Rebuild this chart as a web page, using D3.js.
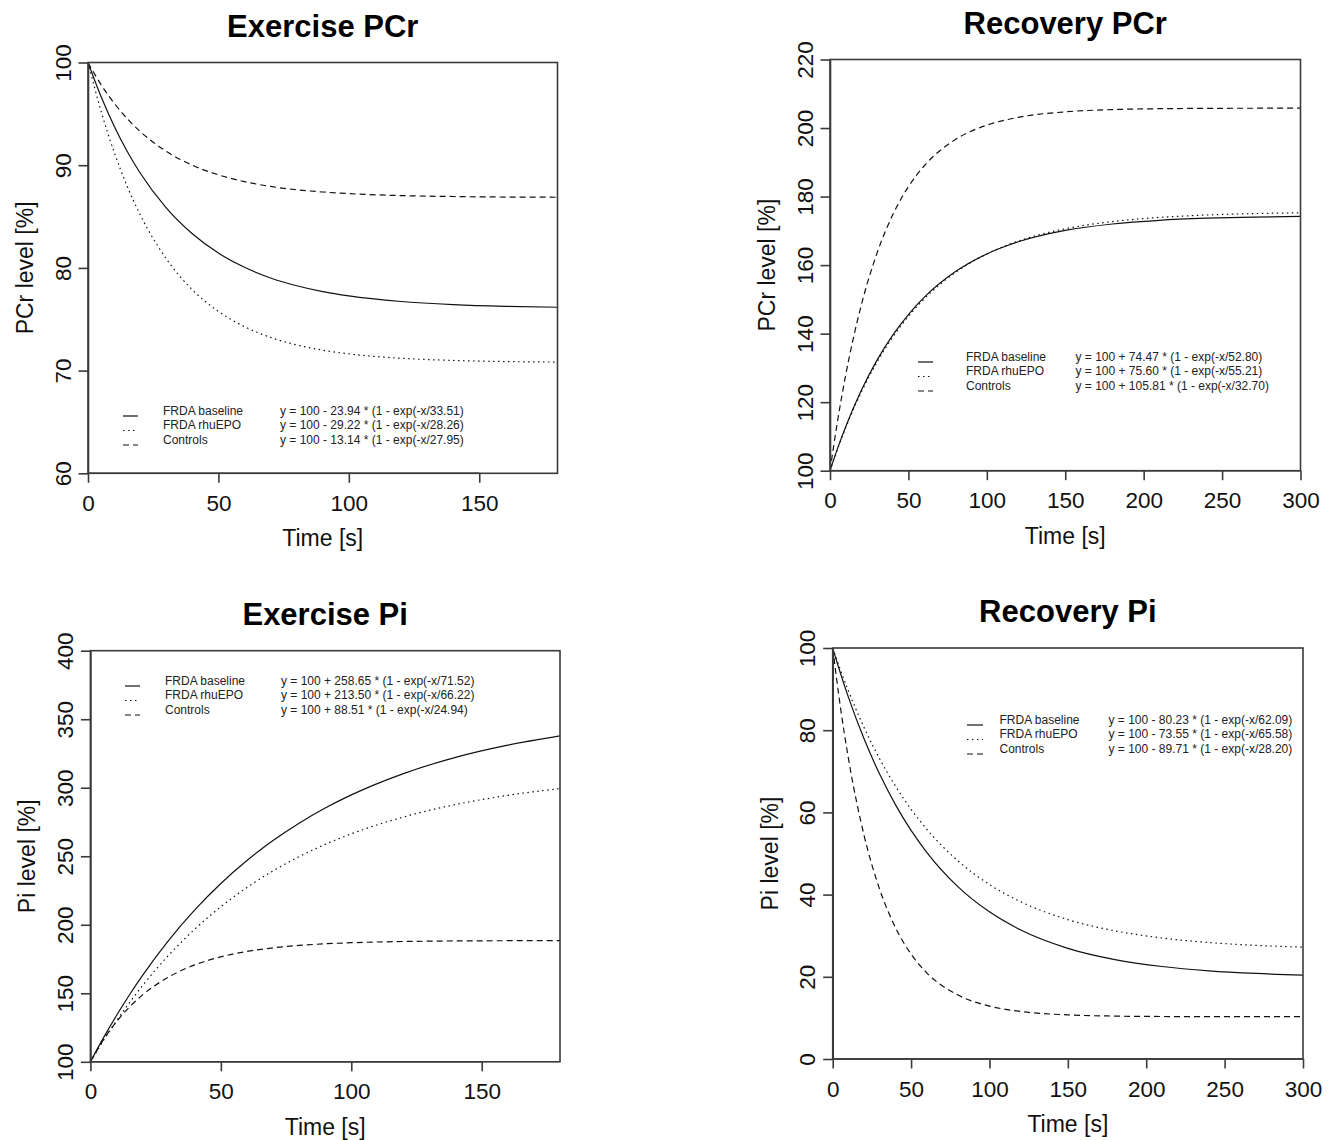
<!DOCTYPE html>
<html>
<head>
<meta charset="utf-8">
<script src="https://cdn.jsdelivr.net/npm/d3@7"></script>
<style>
  html, body { margin: 0; padding: 0; background: #fff; }
  svg { display: block; font-family: "Liberation Sans", Arial, sans-serif; }
</style>
</head>
<body>
<svg id="chart" width="1333" height="1140"></svg>
<script>
// ---------------- DATA ----------------
const seriesNames = ["FRDA baseline", "FRDA rhuEPO", "Controls"];

const exerciseTime = [0, 5, 10, 15, 20, 30, 40, 50, 60, 70, 80, 90, 100, 120, 140, 160, 180];
const recoveryTime = [0, 5, 10, 20, 30, 40, 50, 60, 80, 100, 120, 150, 180, 210, 240, 270, 300];

// Exercise PCr
const exPCrBaseline = [100, 96.68, 93.82, 91.36, 89.24, 85.84, 83.32, 81.44, 80.06, 79.02, 78.26, 77.69, 77.27, 76.73, 76.43, 76.26, 76.17];
const exPCrRhuEPO   = [100, 95.26, 91.29, 87.96, 85.18, 80.89, 77.87, 75.76, 74.28, 73.23, 72.50, 71.99, 71.63, 71.20, 70.99, 70.88, 70.83];
const exPCrControls = [100, 97.85, 96.05, 94.54, 93.28, 91.35, 90.00, 89.06, 88.40, 87.93, 87.61, 87.39, 87.23, 87.04, 86.95, 86.90, 86.88];

// Recovery PCr
const recPCrBaseline = [100, 106.73, 112.85, 123.48, 132.28, 139.56, 145.58, 150.56, 158.10, 163.26, 166.80, 170.12, 172.00, 173.08, 173.68, 174.02, 174.22];
const recPCrRhuEPO   = [100, 106.55, 112.53, 122.97, 131.69, 138.96, 145.03, 150.10, 157.85, 163.24, 167.00, 170.60, 172.70, 173.91, 174.62, 175.03, 175.27];
const recPCrControls = [100, 115.00, 127.88, 148.41, 163.53, 174.67, 182.88, 188.92, 196.65, 200.84, 203.11, 204.73, 205.38, 205.64, 205.74, 205.78, 205.80];

// Exercise Pi
const exPiBaseline = [100, 117.46, 133.75, 148.94, 163.08, 188.61, 210.81, 230.10, 246.86, 261.45, 274.12, 285.17, 294.76, 310.34, 322.13, 331.03, 337.78];
const exPiRhuEPO   = [100, 115.52, 129.93, 143.28, 155.66, 177.78, 196.80, 213.16, 227.22, 239.31, 249.71, 258.65, 266.34, 278.64, 287.73, 294.46, 299.41];
const exPiControls = [100, 116.08, 129.24, 140.01, 148.81, 161.93, 170.71, 176.59, 180.53, 183.16, 184.93, 186.11, 186.90, 187.79, 188.19, 188.36, 188.45];

// Recovery Pi
const recPiBaseline = [100, 93.79, 88.06, 77.90, 69.26, 61.90, 55.63, 50.30, 41.89, 35.80, 31.38, 26.93, 24.19, 22.50, 21.45, 20.81, 20.41];
const recPiRhuEPO   = [100, 94.60, 89.60, 80.66, 73.00, 66.42, 60.77, 55.91, 48.17, 42.45, 38.25, 33.92, 31.18, 29.44, 28.34, 27.65, 27.21];
const recPiControls = [100, 85.42, 73.21, 54.43, 41.25, 32.01, 25.52, 20.97, 15.55, 12.87, 11.56, 10.73, 10.44, 10.34, 10.31, 10.30, 10.29];

// Legend formulas
const exPCrFormulas  = ["y = 100 - 23.94 * (1 - exp(-x/33.51)", "y = 100 - 29.22 * (1 - exp(-x/28.26)", "y = 100 - 13.14 * (1 - exp(-x/27.95)"];
const recPCrFormulas = ["y = 100 + 74.47 * (1 - exp(-x/52.80)", "y = 100 + 75.60 * (1 - exp(-x/55.21)", "y = 100 + 105.81 * (1 - exp(-x/32.70)"];
const exPiFormulas   = ["y = 100 + 258.65 * (1 - exp(-x/71.52)", "y = 100 + 213.50 * (1 - exp(-x/66.22)", "y = 100 + 88.51 * (1 - exp(-x/24.94)"];
const recPiFormulas  = ["y = 100 - 80.23 * (1 - exp(-x/62.09)", "y = 100 - 73.55 * (1 - exp(-x/65.58)", "y = 100 - 89.71 * (1 - exp(-x/28.20)"];

// Ticks
const exerciseXTicks = [0, 50, 100, 150];
const recoveryXTicks = [0, 50, 100, 150, 200, 250, 300];
const exPCrYTicks  = [60, 70, 80, 90, 100];
const recPCrYTicks = [100, 120, 140, 160, 180, 200, 220];
const exPiYTicks   = [100, 150, 200, 250, 300, 350, 400];
const recPiYTicks  = [0, 20, 40, 60, 80, 100];

// ---------------- LAYOUT ----------------
const dashStyles = [null, "1.5,3.5", "6,4"];

const panels = [
  { title: "Exercise PCr", ylab: "PCr level [%]", time: exerciseTime, xDomain: [0, 180], xTicks: exerciseXTicks,
    yDomain: [60, 100], yTicks: exPCrYTicks, series: [exPCrBaseline, exPCrRhuEPO, exPCrControls], formulas: exPCrFormulas,
    box: { x0: 88, x1: 557.5, y0: 62.5, y1: 473.3 }, leg: { s0: 123, s1: 138, tx: 163, fx: 280, by: 414.5 } },
  { title: "Recovery PCr", ylab: "PCr level [%]", time: recoveryTime, xDomain: [0, 300], xTicks: recoveryXTicks,
    yDomain: [100, 220], yTicks: recPCrYTicks, series: [recPCrBaseline, recPCrRhuEPO, recPCrControls], formulas: recPCrFormulas,
    box: { x0: 830, x1: 1300.5, y0: 59.5, y1: 470.7 }, leg: { s0: 918, s1: 933, tx: 966, fx: 1075.5, by: 360.5 } },
  { title: "Exercise Pi", ylab: "Pi level [%]", time: exerciseTime, xDomain: [0, 180], xTicks: exerciseXTicks,
    yDomain: [100, 400], yTicks: exPiYTicks, series: [exPiBaseline, exPiRhuEPO, exPiControls], formulas: exPiFormulas,
    box: { x0: 90.4, x1: 560, y0: 650.7, y1: 1061.8 }, leg: { s0: 125, s1: 140, tx: 165, fx: 281, by: 684.5 } },
  { title: "Recovery Pi", ylab: "Pi level [%]", time: recoveryTime, xDomain: [0, 300], xTicks: recoveryXTicks,
    yDomain: [0, 100], yTicks: recPiYTicks, series: [recPiBaseline, recPiRhuEPO, recPiControls], formulas: recPiFormulas,
    box: { x0: 832.7, x1: 1303, y0: 648, y1: 1059 }, leg: { s0: 967, s1: 983, tx: 999.5, fx: 1108.5, by: 723.5 } }
];

const svg = d3.select("#chart");
svg.append("rect").attr("width", 1333).attr("height", 1140).attr("fill", "#fff");

const INK = "#111";
const AXIS = "#3a3a3a";

panels.forEach((p, pi) => {
  const b = p.box;
  const x = d3.scaleLinear().domain(p.xDomain).range([b.x0, b.x1]);
  const y = d3.scaleLinear().domain(p.yDomain).range([b.y1, b.y0]);
  const g = svg.append("g");

  // clip
  const clipId = "clip" + pi;
  svg.append("clipPath").attr("id", clipId)
    .append("rect").attr("x", b.x0).attr("y", b.y0).attr("width", b.x1 - b.x0).attr("height", b.y1 - b.y0);

  // curves
  const line = d3.line().x(d => x(d[0])).y(d => y(d[1])).curve(d3.curveMonotoneX);
  p.series.forEach((vals, si) => {
    const pts = p.time.map((t, i) => [t, vals[i]]);
    g.append("path")
      .attr("clip-path", `url(#${clipId})`)
      .attr("d", line(pts))
      .attr("fill", "none")
      .attr("stroke", INK)
      .attr("stroke-width", 1.2)
      .attr("stroke-dasharray", dashStyles[si]);
  });

  // box
  g.append("rect")
    .attr("x", b.x0).attr("y", b.y0).attr("width", b.x1 - b.x0).attr("height", b.y1 - b.y0)
    .attr("fill", "none").attr("stroke", AXIS).attr("stroke-width", 1.6);

  // x axis
  const xa = g.append("g").attr("transform", `translate(0,${b.y1})`)
    .call(d3.axisBottom(x).tickValues(p.xTicks).tickSize(9.5).tickSizeOuter(0).tickFormat(d3.format("d")));
  xa.select(".domain").attr("stroke", AXIS).attr("stroke-width", 1.6)
    .attr("d", `M${x(p.xTicks[0])},0H${x(p.xTicks[p.xTicks.length - 1])}`);
  xa.selectAll(".tick line").attr("stroke", AXIS).attr("stroke-width", 1.6);
  xa.selectAll(".tick text").attr("y", 37.5).attr("dy", 0)
    .attr("font-size", 22.5).attr("fill", INK).attr("font-family", "Liberation Sans, Arial, sans-serif");

  // y axis
  const ya = g.append("g").attr("transform", `translate(${b.x0},0)`)
    .call(d3.axisLeft(y).tickValues(p.yTicks).tickSize(9.5).tickSizeOuter(0).tickFormat(d3.format("d")));
  ya.select(".domain").attr("stroke", AXIS).attr("stroke-width", 1.6);
  ya.selectAll(".tick line").attr("stroke", AXIS).attr("stroke-width", 1.6);
  ya.selectAll(".tick text")
    .attr("x", 0).attr("y", 0).attr("dy", 0)
    .attr("text-anchor", "middle")
    .attr("transform", "translate(-17.5,0) rotate(-90)")
    .attr("font-size", 22.5).attr("fill", INK).attr("font-family", "Liberation Sans, Arial, sans-serif");

  // title
  g.append("text")
    .attr("x", (b.x0 + b.x1) / 2).attr("y", b.y0 - 26)
    .attr("text-anchor", "middle").attr("font-size", 31).attr("font-weight", "bold").attr("fill", "#000")
    .text(p.title);

  // x label
  g.append("text")
    .attr("x", (b.x0 + b.x1) / 2).attr("y", b.y1 + 73)
    .attr("text-anchor", "middle").attr("font-size", 23).attr("fill", INK)
    .text("Time [s]");

  // y label
  g.append("text")
    .attr("transform", `translate(${b.x0 - 55},${(b.y0 + b.y1) / 2}) rotate(-90)`)
    .attr("text-anchor", "middle").attr("font-size", 23).attr("fill", INK)
    .text(p.ylab);

  // legend
  const L = p.leg;
  seriesNames.forEach((name, si) => {
    const by = L.by + si * 14.5;
    g.append("line")
      .attr("x1", L.s0).attr("x2", L.s1).attr("y1", by + 1.5).attr("y2", by + 1.5)
      .attr("stroke", INK).attr("stroke-width", 1.2)
      .attr("stroke-dasharray", dashStyles[si]);
    g.append("text").attr("x", L.tx).attr("y", by)
      .attr("font-size", 12).attr("fill", "#222").text(name);
    g.append("text").attr("x", L.fx).attr("y", by)
      .attr("font-size", 12).attr("fill", "#222").text(p.formulas[si]);
  });
});
</script>
</body>
</html>
